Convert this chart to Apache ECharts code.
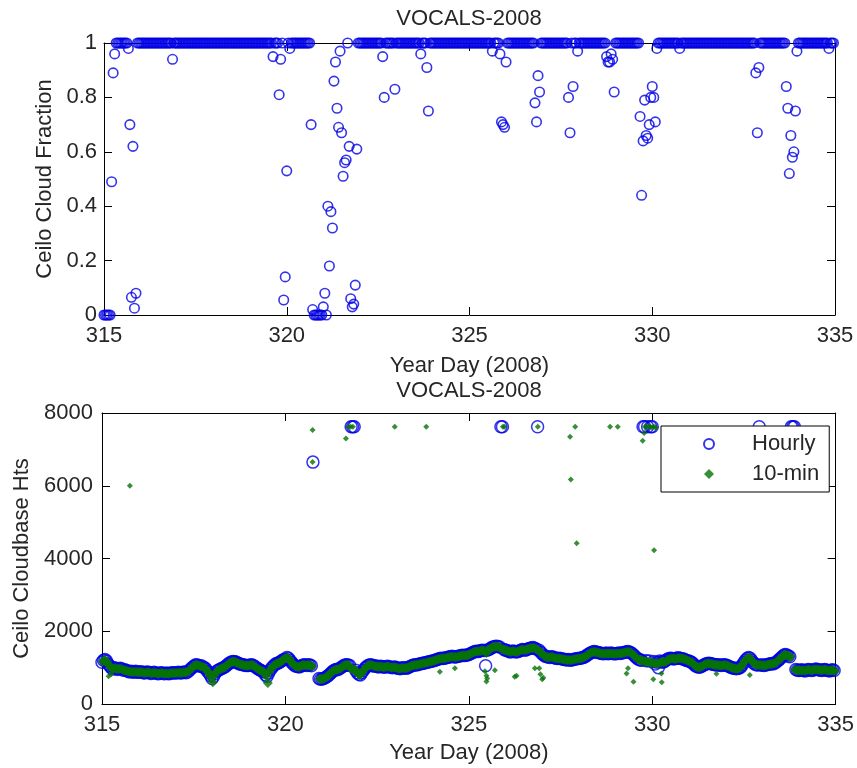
<!DOCTYPE html>
<html><head><meta charset="utf-8">
<script src="https://cdn.jsdelivr.net/npm/echarts@6/dist/echarts.min.js"></script>
<style>html,body{margin:0;padding:0;background:#fff}#c{width:857px;height:768px}</style>
</head><body><div id="c"></div>
<script>
// ---------- data ----------
const START_DAY = 315;          // first year day (hour 0)
const END_DAY = 335;
const xTickStep = 5;            // 315 320 325 330 335
const fracTickStep = 0.2;       // 0 .. 1
const baseTickStep = 2000;      // 0 .. 8000
const titleText = 'VOCALS-2008';
const xName = 'Year Day (2008)';
const topYName = 'Ceilo Cloud Fraction';
const botYName = 'Ceilo Cloudbase Hts';
const seriesNames = ['Hourly', '10-min'];

// hourly cloud fraction, one row per day (24 hours)
const cloudFraction = [
 [0,0,0,0,0,.49,.89,.96,1,1,1,1,1,1,1,1,.98,.70,.065,.62,.025,.08,1,1],
 [1,1,1,1,1,1,1,1,1,1,1,1,1,1,1,1,1,1,1,1,1,.94,1,1],
 [1,1,1,1,1,1,1,1,1,1,1,1,1,1,1,1,1,1,1,1,1,1,1,1],
 [1,1,1,1,1,1,1,1,1,1,1,1,1,1,1,1,1,1,1,1,1,1,1,1],
 [1,1,1,1,1,1,1,1,1,1,1,1,1,1,1,.95,1,1,1,.81,.94,1,.055,.14],
 [.53,1,.98,1,1,1,1,1,1,1,1,1,1,1,1,1,.70,.02,0,0,0,0,0,0],
 [.03,.08,0,.40,.18,.38,.32,.86,.93,.76,.69,.97,.67,.51,.56,.57,1,.62,.06,.03,.04,.11,.61,1],
 [1,1,1,1,1,1,1,1,1,1,1,1,1,1,1,.95,.80,1,1,1,1,1,1,.83],
 [1,1,1,1,1,1,1,1,1,1,1,1,1,1,1,1,.96,1,1,1,.91,.75,1,1],
 [1,1,1,1,1,1,1,1,1,1,1,1,1,1,1,1,1,1,1,1,1,1,1,1],
 [1,1,1,1,1,1,1,1,1,1,1,1,1,1,1,.97,1,1,1,1,.96,.71,.70,.69],
 [.93,1,1,1,1,1,1,1,1,1,1,1,1,1,1,1,1,1,1,.78,.71,.88,.82,1],
 [1,1,1,1,1,1,1,1,1,1,1,1,1,1,1,1,1,.80,.67,1,.84,1,1,.97],
 [1,1,1,1,1,1,1,1,1,1,1,1,1,1,1,1,1,1,.95,.93,.93,.96,.94,.82],
 [1,1,1,1,1,1,1,1,1,1,1,1,1,1,1,1,.73,.44,.64,.79,.66,.65,.70,.80],
 [.84,.80,.71,.98,1,1,1,1,1,1,1,1,1,1,1,1,1,1,.98,1,1,1,1,1],
 [1,1,1,1,1,1,1,1,1,1,1,1,1,1,1,1,1,1,1,1,1,1,1,1],
 [1,1,1,1,1,1,1,1,1,1,1,1,1,1,1,1,1,1,1,1,.89,.67,.91,1],
 [1,1,1,1,1,1,1,1,1,1,1,1,1,1,1,1,.84,.76,.52,.66,.58,.60,.75,.97],
 [1,1,1,1,1,1,1,1,1,1,1,1,1,1,1,1,1,1,1,1,.98,1,1,1]
];

// hourly cloudbase heights, one row per day
const hourlyBase = [
 [1150,1200,1220,1180,1100,1050,1000,960,1000,980,950,970,980,960,930,940,920,900,880,900,890,870,900,880],
 [880,870,890,860,850,870,880,860,840,850,870,860,840,830,850,860,840,830,850,840,830,850,860,850],
 [860,850,870,860,850,870,880,860,880,920,960,1000,1040,1070,1080,1060,1040,1050,1020,1000,960,900,850,780],
 [700,760,840,900,930,950,970,990,1010,1040,1080,1110,1140,1160,1170,1160,1150,1120,1100,1090,1080,1070,1060,1060],
 [1060,1070,1080,1060,1030,1000,970,940,920,900,880,800,760,850,930,990,1040,1080,1110,1120,1140,1170,1200,1220],
 [1230,1280,1260,1200,1150,1100,1060,1040,1030,1020,1040,1060,1080,1070,1060,1080,1070,1050,6650,null,null,null,700,680],
 [690,700,720,750,780,820,860,900,930,950,940,960,990,1020,1050,1070,1080,1070,1060,7620,7620,7620,930,860],
 [820,800,860,920,980,1020,1060,1070,1080,1060,1040,1050,1030,1020,1040,1030,1020,1010,1030,1040,1020,1010,1000,1020],
 [1010,990,980,970,990,1000,990,980,1000,1020,1040,1060,1070,1080,1070,1090,1100,1110,1120,1130,1140,1150,1160,1170],
 [1180,1190,1200,1220,1230,1250,1260,1250,1260,1270,1280,1290,1300,1310,1300,1290,1300,1310,1320,1330,1340,1330,1340,1350],
 [1360,1380,1400,1420,1440,1450,1440,1460,1470,1480,1470,1050,1480,1500,1520,1550,1570,1580,1590,1580,1570,7620,7620,1500],
 [1480,1470,1450,1430,1440,1460,1440,1430,1440,1460,1480,1500,1490,1480,1500,1520,1530,1540,1550,1530,1510,7620,1480,1420],
 [1380,1340,1310,1300,1290,1280,1300,1290,1270,1260,1250,1260,1250,1240,1230,1220,1210,1220,1210,1200,1220,1230,1240,1250],
 [1250,1260,1270,1280,1300,1330,1360,1390,1410,1430,1440,1430,1420,1410,1400,1390,1380,1390,1400,1380,1390,1400,1390,1380],
 [1380,1390,1400,1390,1400,1410,1420,1430,1440,1430,1410,1380,1340,1300,1260,1230,1210,1200,7620,7620,1190,7620,1180,7620],
 [7620,1170,1100,1150,1000,1180,1160,1150,1170,1200,1230,1250,1260,1250,1240,1250,1260,1270,1260,1250,1240,1230,1200,1190],
 [1180,1160,1140,1100,1060,1030,1020,1010,1030,1050,1080,1100,1110,1120,1110,1100,1090,1080,1070,1080,1070,1060,1070,1080],
 [1070,1060,1040,1020,1000,990,980,970,980,990,1020,1080,1140,1200,1250,1280,1260,1200,1140,1100,1080,1070,7620,1070],
 [1070,1060,1070,1080,1090,1100,1110,1100,1120,1150,1180,1220,1260,1300,1340,1360,1350,1320,1300,7620,7620,7620,950,930],
 [920,930,940,920,910,930,950,940,920,930,940,960,950,940,930,920,940,950,930,920,910,930,940,920]
];

// 10-min cloudbase, main band read at half-hour offsets, one row per day
const tenMinBase = [
 [1170,1210,1190,1130,1070,1020,980,970,990,960,960,970,970,940,930,920,910,890,890,890,880,880,890,870],
 [870,880,870,850,860,870,870,850,840,860,860,850,830,840,850,850,830,840,840,830,840,850,850,850],
 [850,860,860,850,860,870,870,870,900,940,980,1020,1050,1070,1070,1050,1040,1030,1010,980,930,870,810,720],
 [600,800,870,910,940,960,980,1000,1020,1060,1090,1120,1150,1160,1160,1150,1130,1110,1090,1080,1070,1060,1060,1060],
 [1060,1070,1070,1040,1010,980,950,930,910,890,850,760,580,890,960,1010,1060,1090,1110,1130,1150,1180,1210,1250],
 [1260,1270,1230,1170,1120,1080,1050,1030,1020,1030,1050,1070,1070,1060,1070,1070,1060,1040,null,null,null,null,690,690],
 [690,710,730,760,800,840,880,910,940,950,950,970,1000,1030,1060,1070,1070,1060,1000,960,950,940,900,830],
 [800,830,890,950,1000,1040,1060,1070,1070,1050,1040,1040,1020,1030,1030,1020,1010,1020,1030,1030,1010,1000,1010,1010],
 [1000,980,970,980,990,990,980,990,1010,1030,1050,1060,1070,1070,1080,1090,1100,1110,1120,1130,1140,1150,1160,1170],
 [1180,1190,1210,1220,1240,1250,1250,1250,1260,1270,1280,1290,1300,1300,1290,1290,1300,1310,1320,1330,1330,1330,1340,1350],
 [1370,1390,1410,1430,1440,1440,1450,1460,1470,1470,1460,1400,1490,1510,1530,1560,1570,1580,1580,1570,1550,1520,1500,1490],
 [1470,1460,1440,1430,1450,1450,1430,1430,1450,1470,1490,1490,1480,1490,1510,1520,1530,1540,1540,1520,1500,1470,1440,1400],
 [1360,1320,1300,1290,1280,1290,1290,1280,1260,1250,1250,1250,1240,1230,1220,1210,1210,1210,1200,1210,1220,1230,1240,1250],
 [1250,1260,1270,1290,1310,1340,1370,1400,1420,1430,1430,1420,1410,1400,1390,1380,1380,1390,1390,1380,1390,1390,1380,1380],
 [1380,1390,1390,1390,1400,1410,1420,1430,1430,1420,1390,1360,1320,1280,1240,1220,1200,1190,1180,1170,1160,1150,1140,1140],
 [1130,1120,1120,1110,1130,1140,1170,1150,1160,1180,1210,1240,1250,1250,1240,1240,1250,1260,1260,1250,1240,1230,1210,1190],
 [1170,1150,1120,1080,1040,1020,1010,1020,1040,1060,1090,1100,1110,1110,1100,1090,1080,1070,1070,1070,1060,1060,1070,1070],
 [1060,1050,1030,1010,990,980,970,970,980,1000,1050,1110,1170,1230,1260,1270,1230,1170,1120,1090,1070,1070,1070,1070],
 [1060,1060,1070,1080,1090,1100,1100,1110,1130,1160,1200,1240,1280,1320,1350,1350,1330,1310,1290,null,null,940,930,920],
 [930,920,930,920,920,940,950,930,920,940,950,950,940,940,930,930,950,940,920,920,920,940,930,910]
];

// 10-min points away from the main band: [year day, height]
const tenMinExtra = [
 [315.18,760],[315.25,820],[315.76,6000],
 [320.74,6650],[320.74,7530],[321.65,7300],[321.72,7620],[321.78,7620],[321.84,7620],
 [322.98,7620],[323.84,7620],
 [324.21,890],[324.62,980],[325.44,900],[325.48,780],[325.48,620],[325.50,700],[325.71,930],
 [325.93,7620],[325.97,7620],[326.25,750],[326.30,780],[326.80,980],[326.88,7620],
 [326.92,980],[326.95,820],[327.00,680],[327.03,720],
 [327.76,7350],[327.78,6175],[327.90,7620],[327.94,4420],[328.85,7620],[329.06,7620],
 [329.30,840],[329.34,980],[329.49,610],
 [329.74,7240],[329.78,7450],[329.80,7620],[329.85,7620],[329.90,7620],[329.95,7620],
 [330.00,7600],[330.05,7620],[330.10,7600],
 [330.03,680],[330.05,4230],[330.26,600],[330.25,840],[331.75,830],[332.66,800]
];

// ---------- build ----------
const FONT = {fontFamily: 'Liberation Sans, Arial, sans-serif', fontSize: 22, color: '#262626'};
const BLUE = '#0000e6';
const GREEN = '#067306';

function toPoints(rows, offset) {
  const out = [];
  rows.flat().forEach((v, i) => { if (v != null) out.push([START_DAY + (i + offset) / 24, v]); });
  return out;
}

function xAxis(grid, pos, withLabels) {
  const a = {
    gridIndex: grid, type: 'value', position: pos, min: START_DAY, max: END_DAY, interval: xTickStep,
    axisLine: {onZero: false, lineStyle: {color: '#000', width: 1}},
    axisTick: {inside: true, length: 8, lineStyle: {color: '#000'}},
    axisLabel: Object.assign({show: withLabels, margin: 10}, FONT),
    splitLine: {show: false}
  };
  if (withLabels) {
    a.name = xName; a.nameLocation = 'middle'; a.nameGap = grid === 0 ? 40 : 38;
    a.nameTextStyle = Object.assign({}, FONT);
  }
  return a;
}
function yAxis(grid, pos, withLabels, max, step, name, gap, margin) {
  const a = {
    gridIndex: grid, type: 'value', position: pos, min: 0, max: max, interval: step,
    axisLine: {onZero: false, lineStyle: {color: '#000', width: 1}},
    axisTick: {inside: true, length: 8, lineStyle: {color: '#000'}},
    axisLabel: Object.assign({show: withLabels, margin: margin, formatter: v => String(v)}, FONT),
    splitLine: {show: false}
  };
  if (withLabels) {
    a.name = name; a.nameLocation = 'middle'; a.nameGap = gap;
    a.nameTextStyle = Object.assign({}, FONT);
  }
  return a;
}

const chart = echarts.init(document.getElementById('c'), null, {renderer: 'canvas'});
chart.setOption({
  animation: false,
  backgroundColor: '#fff',
  title: [
    {text: titleText, left: 469, top: 8, padding: 0, textAlign: 'center', textStyle: Object.assign({fontWeight: 'normal'}, FONT)},
    {text: titleText, left: 469, top: 380, padding: 0, textAlign: 'center', textStyle: Object.assign({fontWeight: 'normal'}, FONT)}
  ],
  grid: [
    {left: 104, top: 43, width: 731, height: 272},
    {left: 102, top: 413, width: 735, height: 291}
  ],
  xAxis: [xAxis(0, 'bottom', true), xAxis(0, 'top', false), xAxis(1, 'bottom', true), xAxis(1, 'top', false)],
  yAxis: [
    yAxis(0, 'left', true, 1, fracTickStep, topYName, 48, 7),
    yAxis(0, 'right', false, 1, fracTickStep),
    yAxis(1, 'left', true, 8000, baseTickStep, botYName, 68, 9),
    yAxis(1, 'right', false, 8000, baseTickStep)
  ],
  legend: {
    data: seriesNames, orient: 'vertical', left: 661, top: 426,
    padding: [6, 10, 6, 42], itemGap: 6, itemWidth: 10, itemHeight: 10,
    backgroundColor: '#fff', borderColor: '#000', borderWidth: 1, borderRadius: 0,
    selectedMode: false, z: 10,
    textStyle: Object.assign({padding: [0, 0, 0, 33], lineHeight: 24}, FONT)
  },
  series: [
    {name: 'fraction', type: 'scatter', xAxisIndex: 0, yAxisIndex: 0, clip: false,
     symbol: 'circle', symbolSize: 9.5, data: toPoints(cloudFraction, 0),
     itemStyle: {color: 'rgba(0,0,0,0)', borderColor: BLUE, borderWidth: 1.6}},
    {name: seriesNames[0], type: 'scatter', xAxisIndex: 2, yAxisIndex: 2, clip: false,
     symbol: 'circle', symbolSize: 12, data: toPoints(hourlyBase, 0),
     itemStyle: {color: 'rgba(0,0,0,0)', borderColor: BLUE, borderWidth: 1.5}},
    {name: seriesNames[1], type: 'scatter', xAxisIndex: 2, yAxisIndex: 2, clip: false,
     symbol: 'diamond', symbolSize: 10, data: toPoints(tenMinBase, 0.5),
     itemStyle: {color: GREEN}},
    {name: seriesNames[1], type: 'scatter', xAxisIndex: 2, yAxisIndex: 2, clip: false,
     symbol: 'diamond', symbolSize: 6, data: tenMinExtra,
     itemStyle: {color: GREEN}}
  ]
});
</script>
</body></html>
